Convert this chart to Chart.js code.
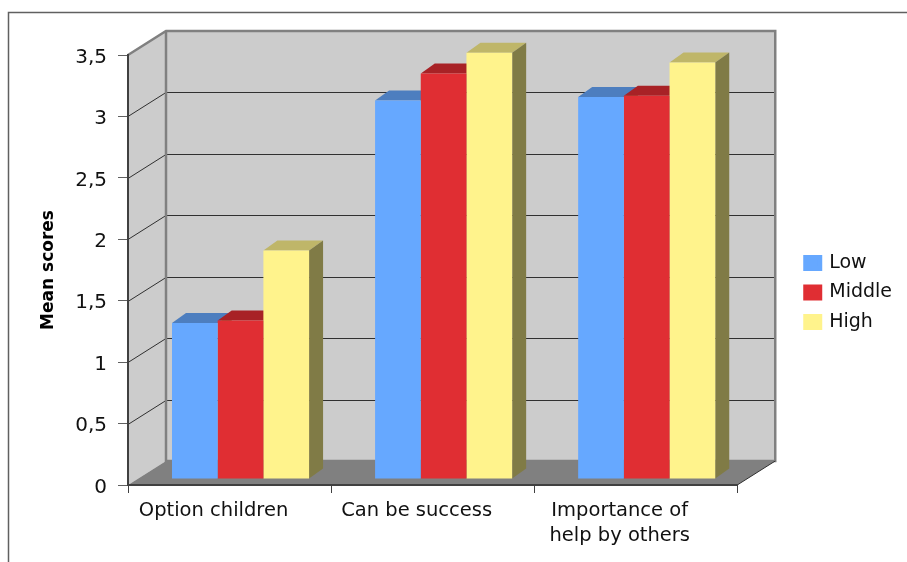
<!DOCTYPE html>
<html>
<head>
<meta charset="utf-8">
<title>Mean scores</title>
<script src="https://cdn.jsdelivr.net/npm/chart.js@4/dist/chart.umd.min.js"></script>
<style>
    html, body { margin: 0; padding: 0; background: #fff; overflow: hidden; }
    canvas { display: block; }
</style>
</head>
<body>
<canvas id="scoresChart" width="907" height="562"></canvas>
<script>
// Chart data
const categories = ['Option children', 'Can be success', ['Importance of', 'help by others']];
const lowScores = [1.27, 3.08, 3.11];
const middleScores = [1.29, 3.30, 3.12];
const highScores = [1.86, 3.47, 3.39];
const yTicks = [0, 0.5, 1, 1.5, 2, 2.5, 3, 3.5];

// Face colours for the extruded columns
const shades = [
    { front: '#66a8ff', top: '#4d7ebf' },
    { front: '#e02e33', top: '#a82226' },
    { front: '#fff38c', top: '#bfb669' }
];
const sideColor = '#807b46';

// Depth of the room and of the columns, and where the columns sit in it
const wallDepth = { x: 38, y: -24 };
const barDepth = { x: 14, y: -10 };
const barShift = { x: 11, y: -6 };

function poly(ctx, points, fill) {
    ctx.beginPath();
    points.forEach((p, i) => i ? ctx.lineTo(p[0], p[1]) : ctx.moveTo(p[0], p[1]));
    ctx.closePath();
    ctx.fillStyle = fill;
    ctx.fill();
}

// Outer frame, walls, floor and grid lines
const roomPlugin = {
    id: 'room',
    beforeDraw(chart) {
        const ctx = chart.ctx;
        const { left, right, top, bottom } = chart.chartArea;
        const dx = wallDepth.x, dy = wallDepth.y;

        ctx.save();
        ctx.strokeStyle = '#606060';
        ctx.lineWidth = 1.5;
        ctx.beginPath();
        ctx.moveTo(8.5, 562);
        ctx.lineTo(8.5, 12.5);
        ctx.lineTo(907, 12.5);
        ctx.stroke();

        poly(ctx, [[left + dx, top + dy], [right + dx, top + dy], [right + dx, bottom + dy], [left + dx, bottom + dy]], '#cccccc');
        poly(ctx, [[left, top], [left + dx, top + dy], [left + dx, bottom + dy], [left, bottom]], '#cccccc');
        poly(ctx, [[left, bottom], [left + dx, bottom + dy], [right + dx, bottom + dy], [right, bottom]], '#808080');

        // grid lines run along the side wall, then the back wall
        ctx.strokeStyle = '#303030';
        ctx.lineWidth = 1;
        const yScale = chart.scales.y;
        yTicks.slice(1, -1).forEach(value => {
            const y = Math.round(yScale.getPixelForValue(value)) + 0.5;
            ctx.beginPath();
            ctx.moveTo(left, y);
            ctx.lineTo(left + dx, y + dy);
            ctx.lineTo(right + dx, y + dy);
            ctx.stroke();
        });

        // wall edges
        ctx.strokeStyle = '#808080';
        ctx.lineWidth = 2.5;
        ctx.beginPath();
        ctx.moveTo(left, top);
        ctx.lineTo(left + dx, top + dy);
        ctx.lineTo(right + dx, top + dy);
        ctx.lineTo(right + dx, bottom + dy);
        ctx.lineTo(left + dx, bottom + dy);
        ctx.lineTo(left + dx, top + dy);
        ctx.stroke();

        ctx.strokeStyle = '#303030';
        ctx.lineWidth = 1;
        ctx.beginPath();
        ctx.moveTo(right, bottom);
        ctx.lineTo(right + dx, bottom + dy);
        ctx.stroke();
        ctx.restore();
    }
};

// Top and side faces go down first, the library then paints the fronts over them
const columnsPlugin = {
    id: 'columns',
    beforeDatasetsDraw(chart) {
        const ctx = chart.ctx;
        ctx.save();
        ctx.translate(barShift.x, barShift.y);
        chart.data.datasets.forEach((dataset, i) => {
            chart.getDatasetMeta(i).data.forEach(bar => {
                const { x, y, base, width } = bar.getProps(['x', 'y', 'base', 'width'], true);
                const l = x - width / 2, r = x + width / 2;
                const dx = barDepth.x, dy = barDepth.y;
                poly(ctx, [[l, y], [l + dx, y + dy], [r + dx, y + dy], [r, y]], shades[i].top);
                poly(ctx, [[r, y], [r + dx, y + dy], [r + dx, base + dy], [r, base]], sideColor);
            });
        });
    },
    afterDatasetsDraw(chart) {
        chart.ctx.restore();
    }
};

new Chart(document.getElementById('scoresChart').getContext('2d'), {
    type: 'bar',
    data: {
        labels: categories,
        datasets: [
            { label: 'Low', data: lowScores, backgroundColor: shades[0].front, clip: false },
            { label: 'Middle', data: middleScores, backgroundColor: shades[1].front, clip: false },
            { label: 'High', data: highScores, backgroundColor: shades[2].front, clip: false }
        ]
    },
    options: {
        responsive: false,
        animation: false,
        categoryPercentage: 0.675,
        barPercentage: 1,
        layout: {
            padding: { left: 0, top: 23, right: 5, bottom: 0 }
        },
        plugins: {
            tooltip: { enabled: false },
            legend: {
                position: 'right',
                labels: {
                    // small box plus a thick same-coloured stroke keeps the text close to the swatch
                    boxWidth: 14,
                    boxHeight: 11,
                    padding: 10.5,
                    color: '#111',
                    font: { family: 'DejaVu Sans', size: 19 },
                    generateLabels: chart => Chart.defaults.plugins.legend.labels.generateLabels(chart).map(item => ({
                        ...item,
                        lineWidth: 5,
                        strokeStyle: item.fillStyle
                    }))
                }
            }
        },
        scales: {
            x: {
                afterFit: scale => { scale.height = 77; },
                border: { color: '#404040', width: 2 },
                grid: { drawOnChartArea: false, tickLength: 8, color: '#404040' },
                ticks: {
                    autoSkip: false,
                    maxRotation: 0,
                    padding: 6,
                    labelOffset: -16,
                    color: '#111',
                    font: { family: 'DejaVu Sans', size: 19.5, lineHeight: 1.25 }
                }
            },
            y: {
                min: 0,
                max: 3.5,
                afterFit: scale => { scale.width = 128; },
                afterBuildTicks: scale => { scale.ticks = yTicks.map(value => ({ value })); },
                border: { color: '#404040', width: 2 },
                grid: { drawOnChartArea: false, tickLength: 10, color: '#606060' },
                ticks: {
                    padding: 11,
                    labelOffset: 2.5,
                    color: '#111',
                    font: { family: 'DejaVu Sans', size: 20 },
                    callback: value => String(value).replace('.', ',')
                },
                title: {
                    display: true,
                    text: 'Mean scores',
                    color: '#000',
                    padding: { top: 38, bottom: 0 },
                    font: { family: 'DejaVu Sans', size: 17, weight: 'bold' }
                }
            },
            // empty bands that keep the legend clear of the room and centred beside it
            gutterRight: {
                type: 'linear',
                position: 'right',
                afterFit: scale => { scale.width = 58; },
                border: { display: false },
                grid: { display: false },
                ticks: { display: false }
            },
            gutterTop: {
                type: 'linear',
                axis: 'x',
                position: 'top',
                afterFit: scale => { scale.height = 32; },
                border: { display: false },
                grid: { display: false },
                ticks: { display: false }
            }
        }
    },
    plugins: [roomPlugin, columnsPlugin]
});
</script>
</body>
</html>
